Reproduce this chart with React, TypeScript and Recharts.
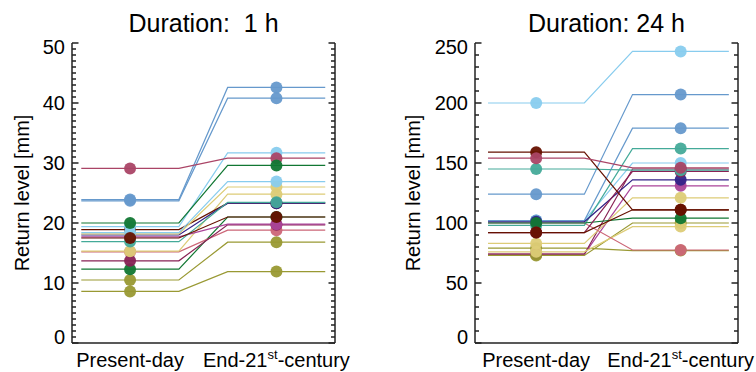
import React from 'react';
import { ComposedChart, Line, XAxis, YAxis, ReferenceLine } from 'recharts';

const FONT = '"Liberation Sans", Arial, Helvetica, sans-serif';

// Paul Tol's 12-colour palette
const indigo = '#332288';
const blue = '#6699CC';
const cyan = '#88CCEE';
const teal = '#44AA99';
const green = '#117733';
const olive = '#999933';
const sand = '#DDCC77';
const brown = '#661100';
const rose = '#CC6677';
const rosewine = '#AA4466';
const wine = '#882255';
const purple = '#AA4499';

const categories = ['Present-day', 'End-21st-century'];
const categoryX = [1, 4];
const stepX = [0, 1, 2, 3, 4, 5];

// 1 h duration, listed in drawing order (last one on top)
const hourColors = [olive, olive, green, rose, wine, sand, purple, brown, indigo, teal, sand, cyan, cyan, brown, blue, blue, rosewine, green];
const hourPresent = [8.6, 10.5, 12.3, 15.2, 13.7, 15.3, 17.7, 18.9, 18.0, 16.9, 18.2, 19.4, 18.4, 17.5, 23.7, 23.9, 29.1, 20.0];
const hourFuture = [11.9, 16.8, 21.0, 18.8, 19.7, 24.8, 19.8, 23.3, 23.3, 23.45, 26.0, 31.7, 26.9, 21.0, 40.8, 42.6, 30.8, 29.6];

// 24 h duration
const dayColors = [olive, purple, wine, olive, sand, sand, rose, cyan, teal, blue, indigo, green, wine, brown, blue, teal, brown, rosewine, cyan];
const dayPresent = [79, 74, 74, 73, 76, 83, 100, 102, 98, 102, 101, 100, 92, 92, 124, 145, 159, 154, 200];
const dayFuture = [77, 131, 145, 100, 97, 121, 77.5, 150, 162, 179, 136, 104, 143, 111, 207, 144, 111, 146, 243];

const PANEL_W = 378;

const range = (max: number, step: number) => {
  const out: number[] = [];
  for (let v = 0; v <= max + 1e-9; v += step) out.push(Math.round(v * 1000) / 1000);
  return out;
};

const AxisTitle = (props: any) => {
  const vb = props.viewBox;
  const cy = vb && vb.height ? vb.y + vb.height / 2 : 193;
  const x = props.left;
  return (
    <text
      x={x}
      y={cy}
      transform={`rotate(-90 ${x} ${cy})`}
      textAnchor="middle"
      dominantBaseline="central"
      fontSize={20}
      fontFamily={FONT}
      fill="#000"
    >
      Return level [mm]
    </text>
  );
};

const yLabel = (max: number) => (props: any) => {
  const { x, y, payload } = props;
  const v = payload.value;
  const shift = v === max ? 4 : v === 0 ? -6 : 0;
  return (
    <text x={x - 7} y={y + shift} dy="0.36em" textAnchor="end" fontSize={20} fontFamily={FONT} fill="#000">
      {v}
    </text>
  );
};

const xTick = (props: any) => {
  const { x, y, payload } = props;
  const label = categories[categoryX.indexOf(payload.value)] || '';
  const m = label.match(/^(.*\d)(st|nd|rd|th)(.*)$/);
  return (
    <text x={x} y={y + 24} textAnchor="middle" fontSize={20} fontFamily={FONT} fill="#000">
      {m ? (
        <>
          <tspan>{m[1]}</tspan>
          <tspan dy={-8} fontSize={13}>{m[2]}</tspan>
          <tspan dy={8}>{m[3]}</tspan>
        </>
      ) : (
        label
      )}
    </text>
  );
};

interface PanelProps {
  colors: string[];
  present: number[];
  future: number[];
  yMax: number;
  major: number;
  minor: number;
  leftWidth: number;
  rightWidth: number;
  xDomain: [number, number];
  labelX: number;
}

const Panel = ({ colors, present, future, yMax, major, minor, leftWidth, rightWidth, xDomain, labelX }: PanelProps) => {
  const series = colors.map((color, i) => ({
    color,
    data: stepX.map((x) => ({ x, v: x < 2.5 ? present[i] : future[i] })),
  }));
  const majorTicks = range(yMax, major);
  const minorTicks = range(yMax, minor);
  const axisStyle = { stroke: '#222', strokeWidth: 1.5 };

  // inward tick marks, lengths in pixels turned into x-data units
  const unitsPerPx = (xDomain[1] - xDomain[0]) / (PANEL_W - leftWidth - rightWidth);
  const tickMarks = minorTicks.map((v) => {
    const len = (majorTicks.includes(v) ? 6.5 : 4) * unitsPerPx;
    return { v, len };
  });

  return (
    <ComposedChart width={PANEL_W} height={372} margin={{ top: 43, right: 0, bottom: 0, left: 0 }}>
      <XAxis
        type="number"
        dataKey="x"
        domain={xDomain}
        ticks={categoryX}
        interval={0}
        tick={xTick}
        tickLine={false}
        tickSize={0}
        tickMargin={0}
        axisLine={axisStyle}
        height={29}
      />
      <XAxis
        xAxisId="top"
        orientation="top"
        type="number"
        dataKey="x"
        domain={xDomain}
        tick={false}
        tickLine={false}
        axisLine={axisStyle}
        height={0}
      />
      <YAxis
        type="number"
        domain={[0, yMax]}
        ticks={majorTicks}
        interval={0}
        tick={yLabel(yMax)}
        tickLine={false}
        tickSize={0}
        tickMargin={0}
        axisLine={axisStyle}
        width={leftWidth}
        label={<AxisTitle left={labelX} />}
      />
      <YAxis
        yAxisId="right"
        orientation="right"
        type="number"
        domain={[0, yMax]}
        tick={false}
        tickLine={false}
        axisLine={axisStyle}
        width={rightWidth}
      />
      {tickMarks.map((t) => (
        <ReferenceLine
          key={`tl-${t.v}`}
          segment={[
            { x: xDomain[0], y: t.v },
            { x: xDomain[0] + t.len, y: t.v },
          ]}
          stroke="#111"
          strokeWidth={1.4}
          ifOverflow="visible"
        />
      ))}
      {tickMarks.map((t) => (
        <ReferenceLine
          key={`tr-${t.v}`}
          segment={[
            { x: xDomain[1] - t.len, y: t.v },
            { x: xDomain[1], y: t.v },
          ]}
          stroke="#111"
          strokeWidth={1.4}
          ifOverflow="visible"
        />
      ))}
      {series.map((s, i) => (
        <Line
          key={`line-${i}`}
          data={s.data}
          dataKey="v"
          type="linear"
          stroke={s.color}
          strokeWidth={1.2}
          dot={false}
          activeDot={false}
          isAnimationActive={false}
        />
      ))}
      {series.map((s, i) => (
        <Line
          key={`dots-${i}`}
          data={s.data}
          dataKey="v"
          type="linear"
          stroke="none"
          activeDot={false}
          isAnimationActive={false}
          dot={(p: any) =>
            categoryX.includes(p.payload.x) ? (
              <circle key={`d-${i}-${p.index}`} cx={p.cx} cy={p.cy} r={6} fill={s.color} fillOpacity={0.95} />
            ) : (
              <g key={`d-${i}-${p.index}`} />
            )
          }
        />
      ))}
    </ComposedChart>
  );
};

export default function App() {
  return (
    <div style={{ position: 'absolute', left: 0, top: 0, width: 756, height: 372, background: '#fff' }}>
      <div style={{ position: 'absolute', left: 0, top: 0 }}>
        <Panel
          colors={hourColors}
          present={hourPresent}
          future={hourFuture}
          yMax={50}
          major={10}
          minor={1}
          leftWidth={72}
          rightWidth={43}
          xDomain={[-0.19, 5.2]}
          labelX={21.5}
        />
      </div>
      <div style={{ position: 'absolute', left: 378, top: 0 }}>
        <Panel
          colors={dayColors}
          present={dayPresent}
          future={dayFuture}
          yMax={250}
          major={50}
          minor={10}
          leftWidth={97}
          rightWidth={18}
          xDomain={[-0.27, 5.19]}
          labelX={35}
        />
      </div>
      <svg width={756} height={40} style={{ position: 'absolute', left: 0, top: 0, pointerEvents: 'none' }}>
        <text x={203.5} y={32} textAnchor="middle" fontSize={25} fontFamily={FONT} fill="#000" style={{ whiteSpace: 'pre' }}>
          Duration:  1 h
        </text>
        <text x={606.5} y={32} textAnchor="middle" fontSize={25} fontFamily={FONT} fill="#000" style={{ whiteSpace: 'pre' }}>
          Duration: 24 h
        </text>
      </svg>
    </div>
  );
}
